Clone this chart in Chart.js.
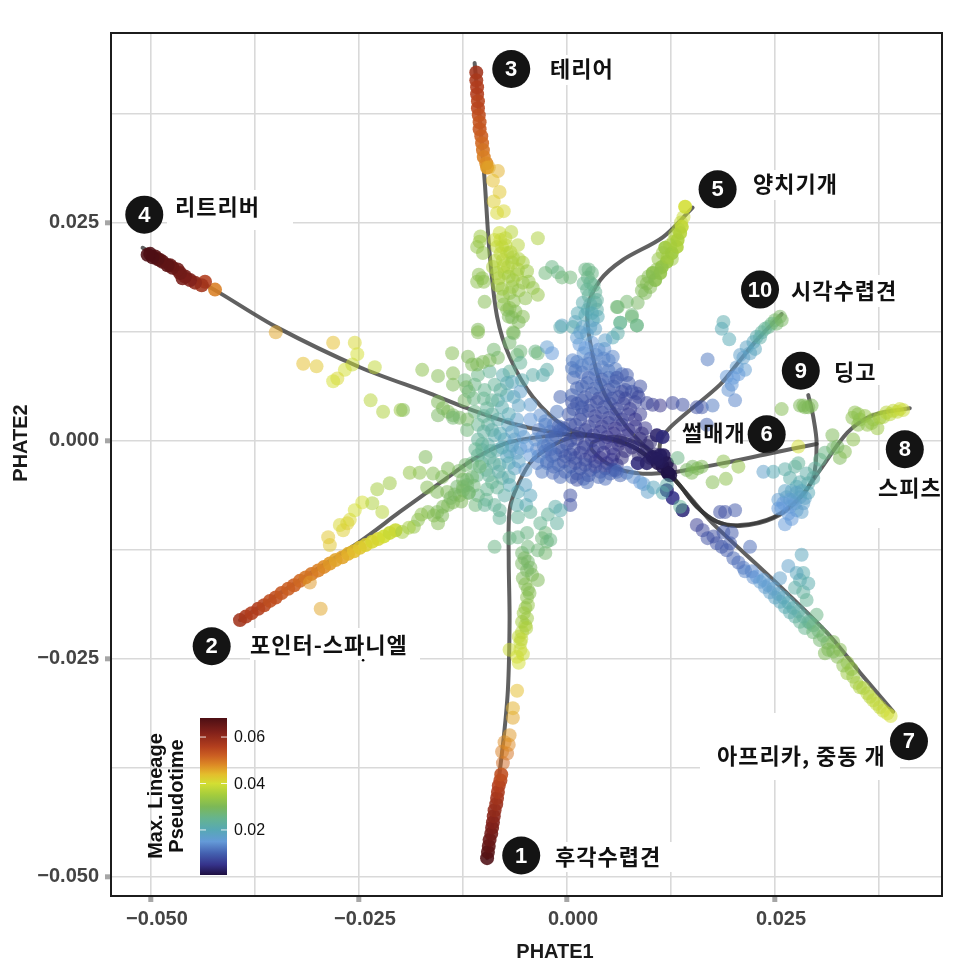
<!DOCTYPE html>
<html><head><meta charset="utf-8">
<style>html,body{margin:0;padding:0;background:#fff}canvas{display:block}</style>
<script src="https://cdn.jsdelivr.net/npm/chart.js@4"></script>
</head><body><div style="width:970px;height:968px"><canvas id="c" width="970" height="968"></canvas></div>
<script>
// ---- tick values ----
const xTickValues=[-.05,-.0375,-.025,-.0125,0,.0125,.025,.0375];
const yTickValues=[-.05,-.0375,-.025,-.0125,0,.0125,.025,.0375];
const majorTicks=[-.05,-.025,0,.025];
// ---- cells: [PHATE1, PHATE2, pseudotime] ----
const hound=[[-.0096,-.0479,.068],[-.0095,-.0472,.067],[-.0094,-.0465,.066],[-.0093,-.0458,.065],[-.0091,-.0451,.064],[-.0090,-.0444,.063],[-.0089,-.0438,.062],[-.0088,-.0431,.061],[-.0087,-.0424,.060],[-.0085,-.0417,.059],[-.0084,-.0410,.058],[-.0083,-.0403,.057],[-.0082,-.0396,.056],[-.0080,-.0390,.055],[-.0079,-.0383,.054],[-.0077,-.0370,.051],[-.0072,-.0359,.050],[-.0078,-.0357,.049],[-.0070,-.0349,.048],[-.0075,-.0346,.048],[-.0069,-.0338,.047],[-.0065,-.0318,.046],[-.0065,-.0307,.045],[-.0060,-.0287,.044],[-.0058,-.0255,.040],[-.0060,-.0248,.040],[-.0069,-.0240,.039],[-.0056,-.0240,.039],[-.0056,-.0232,.038],[-.0058,-.0225,.038],[-.0054,-.0220,.037],[-.0050,-.0212,.036],[-.0054,-.0208,.035],[-.0048,-.0204,.034],[-.0050,-.0192,.033],[-.0047,-.0189,.033],[-.0048,-.0180,.032],[-.0047,-.0171,.031],[-.0035,-.0160,.030],[-.0053,-.0158,.030],[-.0042,-.0154,.030],[-.0048,-.0149,.029],[-.0054,-.0141,.029],[-.0047,-.0139,.028],[-.0054,-.0129,.028],[-.0047,-.0122,.027],[-.0087,-.0122,.026],[-.0069,-.0112,.026],[-.0059,-.0111,.026],[-.0048,-.0106,.026],[-.0026,-.0129,.028],[-.0035,-.0126,.027],[-.0024,-.0116,.027],[-.0030,-.0112,.027],[-.0026,-.0106,.027],[-.0020,-.0114,.026],[-.0032,-.0095,.025],[-.0023,-.0085,.024],[-.0012,-.0095,.023],[-.0044,-.0082,.024],[-.0059,-.0088,.024],[-.0081,-.0089,.024],[-.0099,-.0074,.024],[-.0014,-.0076,.022],[-.0008,-.0080,.021],[-.0051,-.0135,.029],[-.0044,-.0146,.029],[-.0050,-.0165,.031],[-.0045,-.0175,.031],[-.0052,-.0198,.034],[-.0049,-.0215,.036],[-.0055,-.0228,.038],[-.0053,-.0245,.039]];
const pointer=[[-.0393,-.0206,.058],[-.0386,-.0202,.057],[-.0379,-.0198,.056],[-.0371,-.0193,.056],[-.0364,-.0189,.055],[-.0357,-.0184,.054],[-.0350,-.0180,.054],[-.0343,-.0175,.053],[-.0335,-.0170,.052],[-.0328,-.0166,.052],[-.0321,-.0161,.051],[-.0314,-.0157,.050],[-.0307,-.0153,.050],[-.0299,-.0149,.049],[-.0292,-.0145,.048],[-.0285,-.0141,.047],[-.0278,-.0137,.046],[-.0270,-.0134,.046],[-.0263,-.0130,.045],[-.0256,-.0127,.044],[-.0249,-.0123,.043],[-.0242,-.0120,.042],[-.0234,-.0116,.041],[-.0227,-.0113,.041],[-.0220,-.0110,.040],[-.0213,-.0106,.039],[-.0206,-.0103,.039],[-.0296,-.0193,.046],[-.0309,-.0163,.047],[-.0285,-.0120,.043],[-.0287,-.0111,.043],[-.0269,-.0103,.042],[-.0264,-.0095,.042],[-.0261,-.0091,.041],[-.0273,-.0097,.041],[-.0255,-.0080,.040],[-.0246,-.0071,.040],[-.0222,-.0082,.037],[-.0234,-.0072,.036],[-.0228,-.0056,.035],[-.0213,-.0049,.034],[-.0198,-.0105,.035],[-.0184,-.0099,.033],[-.0179,-.0091,.032],[-.0167,-.0082,.031],[-.0155,-.0095,.031],[-.0156,-.0082,.030],[-.0149,-.0076,.030],[-.0143,-.0074,.030],[-.0137,-.0071,.030],[-.0129,-.0063,.029],[-.0125,-.0057,.029],[-.0120,-.0051,.028],[-.0132,-.0053,.028],[-.0168,-.0054,.031],[-.0156,-.0059,.030],[-.0144,-.0059,.030],[-.0189,-.0037,.033],[-.0177,-.0037,.032],[-.0161,-.0038,.031],[-.0170,-.0019,.030],[-.0143,-.0032,.030],[-.0125,-.0053,.029],[-.0114,-.0042,.028],[-.0105,-.0030,.027],[-.0190,-.0100,.035],[-.0175,-.0085,.032],[-.0160,-.0086,.031],[-.0150,-.0086,.030],[-.0140,-.0066,.029],[-.0135,-.0062,.029],[-.0127,-.0070,.030],[-.0118,-.0060,.028],[-.0120,-.0045,.028],[-.0150,-.0042,.030]];
const midLeft=[[-.0107,.0001,.024],[-.0102,-.0011,.023],[-.0107,-.0017,.024],[-.0095,-.0005,.022],[-.0093,-.0020,.023],[-.0097,-.0034,.024],[-.0087,.0006,.021],[-.0084,-.0011,.021],[-.0081,-.0028,.022],[-.0090,-.0048,.025],[-.0078,-.0043,.023],[-.0075,.0001,.019],[-.0069,-.0013,.018],[-.0063,.0001,.017],[-.0056,-.0009,.016],[-.0056,.0012,.016],[-.0071,.0018,.019],[-.0083,.0024,.021],[-.0095,.0018,.023],[-.0107,.0018,.025],[-.0111,.0033,.026],[-.0096,.0037,.024],[-.0083,.0046,.022],[-.0072,.0052,.020],[-.0087,.0064,.024],[-.0099,.0058,.025],[-.0111,.0064,.026],[-.0123,.0069,.027],[-.0107,.0075,.026],[-.0093,.0079,.024],[-.0077,.0075,.021],[-.0066,.0067,.019],[-.0056,.0056,.017],[-.0044,.0041,.016],[-.0032,.0029,.014],[-.0044,.0024,.015],[-.0026,.0018,.013],[-.0038,.0001,.014],[-.0023,-.0005,.012],[-.0044,-.0017,.015],[-.0063,-.0032,.018],[-.0050,-.0034,.016],[-.0069,-.0051,.020],[-.0059,-.0059,.020],[-.0075,-.0063,.022],[-.0087,-.0074,.024],[-.0097,-.0068,.025],[-.0107,-.0063,.026],[-.0081,-.0080,.024],[-.0050,-.0051,.018],[-.0044,-.0063,.019],[-.0049,-.0074,.020],[-.0060,-.0074,.021],[-.0155,.0044,.030],[-.0149,.0037,.030],[-.0143,.0033,.030],[-.0137,.0029,.029],[-.0129,.0026,.029],[-.0120,.0024,.029],[-.0138,.0100,.031],[-.0119,.0096,.030],[-.0114,.0087,.030],[-.0108,.0087,.030],[-.0101,.0090,.030],[-.0093,.0092,.030],[-.0083,.0095,.029],[-.0088,.0104,.028],[-.0174,.0081,.032],[-.0155,.0074,.031],[-.0137,.0077,.031],[-.0137,.0064,.030],[-.0121,.0061,.029],[-.0107,.0124,.031],[-.0123,.0046,.029],[-.0155,.0029,.029],[-.0137,.0026,.028],[-.0197,.0035,.031],[-.0048,-.0006,.015],[-.0052,.0004,.016],[-.0060,-.0014,.017],[-.0066,-.0006,.018],[-.0072,-.0018,.019],[-.0078,-.0008,.020],[-.0080,.0008,.020],[-.0090,.0012,.022],[-.0100,.0010,.023],[-.0102,-.0004,.024],[-.0092,-.0012,.023],[-.0088,-.0026,.023],[-.0102,-.0026,.024],[-.0094,-.0040,.024],[-.0082,-.0036,.022],[-.0070,-.0026,.020],[-.0058,-.0024,.018],[-.0070,-.0042,.021],[-.0084,-.0054,.024],[-.0096,-.0056,.025],[-.0108,-.0040,.025],[-.0114,-.0026,.026],[-.0110,-.0010,.025],[-.0066,.0010,.018],[-.0060,.0024,.017],[-.0070,.0030,.020],[-.0078,.0038,.021],[-.0090,.0030,.023],[-.0100,.0028,.024],[-.0090,.0046,.024],[-.0100,.0048,.025],[-.0112,.0048,.026],[-.0058,.0040,.018],[-.0064,.0050,.019],[-.0080,.0058,.023],[-.0072,.0066,.021],[-.0110,-.0074,.027],[-.0118,-.0060,.028],[-.0112,-.0052,.027],[-.0125,-.0045,.029],[-.0130,-.0035,.029],[-.0122,-.0028,.028],[-.0120,.0012,.027],[-.0118,.0056,.027]];
const retriever=[[-.0423,.0173,.049],[-.0435,.0182,.056],[-.0439,.0178,.058],[-.0447,.0181,.060],[-.0453,.0184,.062],[-.0459,.0188,.063],[-.0462,.0186,.063],[-.0465,.0192,.064],[-.0468,.0196,.064],[-.0474,.0198,.065],[-.0477,.0201,.065],[-.0480,.0201,.066],[-.0486,.0205,.066],[-.0489,.0207,.066],[-.0492,.0208,.067],[-.0495,.0211,.067],[-.0498,.0210,.068],[-.0501,.0214,.068],[-.0504,.0213,.068],[-.0350,.0124,.046],[-.0317,.0088,.044],[-.0301,.0085,.043],[-.0281,.0112,.044],[-.0255,.0112,.041],[-.0252,.0099,.040],[-.0231,.0084,.038],[-.0267,.0081,.040],[-.0258,.0087,.039],[-.0276,.0071,.041],[-.0281,.0068,.040],[-.0236,.0046,.037],[-.0221,.0033,.036],[-.0200,.0035,.034]];
const terrier=[[-.0109,.0422,.058],[-.0109,.0413,.057],[-.0108,.0405,.056],[-.0108,.0397,.056],[-.0107,.0389,.055],[-.0107,.0381,.055],[-.0106,.0373,.054],[-.0105,.0365,.053],[-.0105,.0357,.053],[-.0103,.0349,.052],[-.0102,.0341,.051],[-.0101,.0333,.050],[-.0100,.0325,.049],[-.0097,.0318,.048],[-.0096,.0313,.047],[-.0094,.0313,.046],[-.0083,.0309,.045],[-.0089,.0298,.044],[-.0081,.0285,.043],[-.0088,.0274,.042],[-.0076,.0263,.041],[-.0084,.0261,.041],[-.0067,.0239,.037],[-.0035,.0232,.036],[-.0081,.0238,.039],[-.0078,.0222,.038],[-.0059,.0224,.037],[-.0105,.0228,.034],[-.0101,.0215,.033],[-.0077,.0207,.037],[-.0089,.0199,.036],[-.0053,.0204,.035],[-.0075,.0192,.036],[-.0102,.0186,.032],[-.0065,.0184,.034],[-.0083,.0178,.035],[-.0053,.0181,.034],[-.0069,.0169,.033],[-.0041,.0175,.033],[-.0035,.0167,.033],[-.0050,.0163,.032],[-.0099,.0159,.031],[-.0072,.0150,.031],[-.0053,.0142,.031],[-.0066,.0141,.030],[-.0107,.0127,.030],[-.0065,.0124,.030],[-.0087,.0230,.039],[-.0071,.0199,.037],[-.0059,.0196,.036],[-.0077,.0165,.033],[-.0084,.0192,.036],[-.0072,.0215,.037],[-.0065,.0210,.036],[-.0069,.0152,.031],[-.0064,.0123,.029],[-.0069,.0112,.028],[-.0056,.0102,.027],[-.0060,.0098,.027],[-.0038,.0102,.026],[-.0035,.0100,.027],[-.0056,.0089,.024],[-.0041,.0075,.022],[-.0024,.0081,.022],[-.0029,.0075,.021],[-.0069,.0079,.024],[-.0054,.0069,.021],[-.0024,.0107,.016],[-.0018,.0100,.015],[-.0080,.0230,.039],[-.0074,.0232,.038],[-.0084,.0222,.038],[-.0074,.0224,.038],[-.0080,.0214,.038],[-.0068,.0216,.037],[-.0086,.0206,.037],[-.0076,.0200,.037],[-.0066,.0204,.036],[-.0058,.0208,.036],[-.0082,.0186,.036],[-.0070,.0188,.035],[-.0060,.0190,.035],[-.0048,.0194,.034],[-.0078,.0174,.034],[-.0066,.0176,.034],[-.0058,.0172,.033],[-.0046,.0182,.033],[-.0076,.0156,.032],[-.0064,.0160,.032],[-.0062,.0148,.031],[-.0070,.0142,.030],[-.0058,.0136,.030],[-.0104,.0234,.034],[-.0108,.0222,.033],[-.0106,.0190,.032],[-.0100,.0182,.032],[-.0108,.0182,.032]];
const upperMid=[[-.0018,.0199,.026],[-.0026,.0192,.027],[-.0011,.0193,.026],[-.0006,.0187,.027],[.0004,.0187,.027],[.0026,.0196,.026],[.0025,.0187,.026],[.0028,.0181,.025],[.0034,.0170,.024],[.0036,.0161,.023],[.0036,.0150,.022],[.0024,.0173,.024],[.0019,.0158,.021],[.0013,.0146,.020],[.0010,.0136,.019],[.0025,.0150,.021],[.0031,.0138,.019],[.0037,.0142,.020],[-.0006,.0132,.018],[.0028,.0130,.018],[.0019,.0130,.018],[.0060,.0153,.027],[.0078,.0142,.027],[.0084,.0132,.026],[.0064,.0135,.025],[.0061,.0123,.022],[.0055,.0118,.020],[.0046,.0115,.017],[-.0008,.0130,.021],[.0007,.0130,.021],[.0012,.0118,.016],[.0007,.0092,.013],[.0006,.0083,.012],[.0055,.0096,.013],[.0072,.0075,.009],[.0060,.0072,.009],[-.0008,.0050,.010],[.0006,.0044,.009],[-.0012,.0033,.012],[.0018,.0038,.009],[.0022,.0196,.026],[.0030,.0192,.026],[.0020,.0180,.025],[.0032,.0178,.025],[.0026,.0166,.024],[.0034,.0158,.023],[.0028,.0156,.022],[.0022,.0144,.020],[.0030,.0146,.020],[.0034,.0128,.018],[.0024,.0122,.017],[.0016,.0124,.017]];
const setter=[[.0142,.0268,.040],[.0138,.0245,.038],[.0136,.0238,.037],[.0133,.0230,.036],[.0132,.0222,.036],[.0126,.0215,.035],[.0118,.0221,.034],[.0120,.0205,.034],[.0114,.0199,.033],[.0112,.0192,.033],[.0103,.0192,.032],[.0106,.0184,.032],[.0140,.0256,.039],[.0137,.0250,.038],[.0134,.0242,.037],[.0130,.0236,.036],[.0128,.0228,.036],[.0124,.0224,.035],[.0126,.0208,.034],[.0110,.0208,.033],[.0108,.0196,.032],[.0091,.0182,.031],[.0100,.0176,.031],[.0094,.0169,.030],[.0085,.0158,.029],[.0072,.0159,.028],[.0061,.0153,.028],[.0078,.0144,.027],[.0084,.0132,.026],[.0064,.0135,.025],[.0121,.0210,.035],[.0115,.0215,.034],[.0098,.0188,.031],[.0096,.0180,.031],[.0090,.0172,.030]];
const core=[[-.0034,.0012,.012],[-.0020,.0010,.011],[-.0010,.0016,.010],[-.0026,-.0012,.012],[-.0036,-.0010,.013],[-.0036,-.0026,.013],[-.0030,-.0036,.012],[.0015,.0110,.015],[.0030,.0112,.015],[.0045,.0105,.014],[.0020,.0100,.014],[.0035,.0098,.013],[.0050,.0092,.013],[.0012,.0090,.013],[.0026,.0088,.012],[.0042,.0084,.012],[.0058,.0082,.012],[.0018,.0078,.011],[.0034,.0076,.011],[.0050,.0072,.011],[.0008,.0072,.011],[.0024,.0066,.010],[.0040,.0064,.010],[.0056,.0062,.009],[.0070,.0058,.008],[.0012,.0060,.010],[.0030,.0054,.009],[.0046,.0052,.009],[.0062,.0050,.008],[.0078,.0056,.008],[.0088,.0062,.008],[.0018,.0046,.009],[.0036,.0044,.008],[.0052,.0042,.008],[.0068,.0042,.007],[.0082,.0044,.007],[.0008,.0036,.009],[.0026,.0034,.008],[.0042,.0032,.007],[.0058,.0030,.007],[.0074,.0030,.006],[.0088,.0030,.006],[.0016,.0024,.008],[.0034,.0022,.007],[.0050,.0020,.006],[.0066,.0018,.006],[.0082,.0016,.005],[.0094,.0014,.005],[.0004,.0018,.008],[.0022,.0012,.007],[.0040,.0010,.006],[.0056,.0008,.005],[.0072,.0006,.005],[.0088,.0002,.004],[.0100,-.0002,.003],[-.0004,.0008,.009],[.0012,.0002,.007],[.0030,.0000,.006],[.0046,-.0003,.005],[.0062,-.0005,.004],[.0078,-.0008,.004],[.0092,-.0012,.003],[.0106,-.0016,.002],[.0114,-.0024,.002],[.0124,-.0032,.001],[-.0018,.0002,.010],[-.0010,-.0008,.010],[.0000,-.0004,.009],[.0008,-.0010,.008],[.0020,-.0008,.007],[.0032,-.0012,.006],[.0044,-.0014,.005],[.0056,-.0016,.005],[-.0014,-.0016,.010],[-.0002,-.0018,.009],[.0010,-.0020,.008],[.0022,-.0022,.007],[.0034,-.0024,.006],[.0048,-.0026,.005],[.0060,-.0028,.006],[-.0024,-.0024,.011],[-.0010,-.0028,.010],[.0004,-.0030,.009],[.0016,-.0032,.008],[.0028,-.0034,.008],[.0040,-.0036,.008],[.0052,-.0038,.009],[.0064,-.0040,.010],[-.0017,-.0037,.011],[-.0008,-.0042,.011],[.0006,-.0042,.010],[.0020,-.0044,.010],[.0012,-.0045,.008],[.0024,-.0048,.011],[.0004,-.0063,.008],[.0004,-.0074,.008],[-.0024,-.0026,.012],[.0055,-.0034,.011],[.0072,-.0037,.012],[.0088,-.0048,.015],[.0097,-.0059,.017],[.0115,-.0060,.021],[.0120,-.0051,.022],[.0136,-.0076,.024],[.0022,.0106,.015],[.0038,.0104,.014],[.0028,.0094,.013],[.0044,.0094,.013],[.0018,.0086,.013],[.0034,.0082,.012],[.0050,.0080,.012],[.0066,.0076,.011],[.0010,.0080,.012],[.0026,.0072,.011],[.0042,.0070,.010],[.0058,.0068,.010],[.0074,.0066,.009],[.0084,.0054,.008],[.0018,.0062,.010],[.0034,.0060,.010],[.0050,.0058,.009],[.0066,.0056,.008],[.0006,.0052,.010],[.0022,.0050,.009],[.0038,.0048,.008],[.0054,.0048,.008],[.0070,.0048,.007],[.0086,.0050,.007],[.0012,.0042,.009],[.0028,.0040,.008],[.0044,.0038,.008],[.0060,.0036,.007],[.0076,.0036,.006],[.0002,.0030,.009],[.0018,.0030,.008],[.0034,.0028,.007],[.0050,.0026,.007],[.0066,.0024,.006],[.0082,.0024,.005],[.0010,.0018,.008],[.0026,.0016,.007],[.0042,.0016,.006],[.0058,.0014,.005],[.0074,.0012,.005],[.0090,.0008,.004],[-.0004,.0014,.009],[.0014,.0008,.007],[.0032,.0006,.006],[.0048,.0004,.005],[.0064,.0000,.004],[.0080,-.0003,.004],[.0096,-.0006,.003],[.0004,.0000,.008],[.0022,-.0004,.007],[.0038,-.0006,.006],[.0054,-.0009,.005],[.0070,-.0012,.004],[.0086,-.0016,.003],[.0100,-.0020,.002],[.0108,-.0022,.002],[-.0006,-.0012,.009],[.0004,-.0016,.008],[.0016,-.0014,.007],[.0028,-.0018,.006],[.0040,-.0020,.005],[.0054,-.0022,.005],[.0066,-.0020,.004],[-.0018,-.0018,.011],[-.0004,-.0024,.009],[.0010,-.0026,.008],[.0022,-.0028,.008],[.0034,-.0030,.007],[.0046,-.0032,.007],[.0058,-.0034,.008],[-.0016,-.0030,.011],[-.0002,-.0036,.010],[.0012,-.0038,.009],[.0026,-.0040,.009],[.0038,-.0042,.010],[.0046,-.0044,.011],[.0060,-.0036,.011],[.0080,-.0042,.014],[.0092,-.0050,.016],[.0104,-.0054,.019],[-.0028,-.0006,.012],[-.0030,.0004,.012],[-.0020,-.0010,.011],[-.0014,.0006,.011],[-.0008,.0012,.010],[-.0016,.0018,.011],[-.0026,.0022,.013],[-.0034,-.0018,.013]];
const sled=[[.0096,.0043,.007],[.0112,.0040,.005],[.0127,.0043,.007],[.0139,.0041,.008],[.0156,.0038,.008],[.0162,.0038,.009],[.0175,.0040,.012],[.0169,.0093,.012],[.0103,.0041,.006],[.0168,.0018,.010],[.0133,-.0020,.026],[.0151,-.0030,.029],[.0144,-.0034,.029],[.0157,-.0032,.030],[.0150,-.0037,.030],[.0188,-.0024,.032],[.0206,-.0030,.033],[.0175,-.0048,.031],[.0191,-.0044,.032],[.0162,-.0030,.030]];
const sighthound=[[.0192,.0073,.015],[.0198,.0064,.015],[.0202,.0046,.013],[.0214,.0081,.016],[.0204,.0084,.016],[.0208,.0098,.017],[.0216,.0107,.018],[.0224,.0113,.019],[.0228,.0119,.021],[.0234,.0124,.023],[.0242,.0130,.025],[.0250,.0138,.028],[.0256,.0142,.029],[.0188,.0136,.021],[.0186,.0128,.020],[.0195,.0116,.020],[.0212,.0095,.017],[.0220,.0100,.018],[.0226,.0105,.019],[.0232,.0118,.022],[.0238,.0128,.024],[.0246,.0134,.026],[.0252,.0134,.028],[.0258,.0138,.029],[.0206,.0076,.015],[.0200,.0072,.015],[.0194,.0058,.014]];
const spitz=[[.0236,-.0036,.017],[.0248,-.0036,.020],[.0262,-.0033,.022],[.0274,-.0030,.023],[.0278,-.0026,.024],[.0268,-.0043,.022],[.0280,-.0048,.021],[.0290,-.0049,.021],[.0276,-.0053,.020],[.0264,-.0065,.017],[.0254,-.0068,.016],[.0272,-.0068,.016],[.0280,-.0065,.017],[.0260,-.0072,.015],[.0268,-.0076,.015],[.0276,-.0080,.016],[.0284,-.0072,.017],[.0262,-.0096,.015],[.0296,-.0043,.022],[.0304,-.0022,.025],[.0310,-.0014,.026],[.0319,.0006,.030],[.0320,-.0009,.028],[.0328,-.0020,.030],[.0334,-.0013,.031],[.0344,.0001,.032],[.0278,-.0007,.040],[.0325,-.0007,.029],[.0346,.0032,.032],[.0343,.0026,.032],[.0352,.0024,.032],[.0361,.0018,.033],[.0373,.0014,.034],[.0368,.0024,.034],[.0380,.0027,.036],[.0388,.0030,.037],[.0397,.0033,.038],[.0404,.0035,.039],[.0280,.0040,.030],[.0284,.0040,.030],[.0290,.0038,.030],[.0258,.0036,.031],[.0270,-.0058,.019],[.0262,-.0058,.018],[.0282,-.0058,.019],[.0290,-.0060,.020],[.0258,-.0078,.015],[.0266,-.0084,.015],[.0274,-.0072,.016],[.0282,-.0082,.017],[.0288,-.0038,.022],[.0298,-.0032,.023],[.0268,-.0068,.016],[.0276,-.0060,.018],[.0286,-.0066,.018],[.0270,-.0090,.015],[.0254,-.0078,.015],[.0350,.0030,.032],[.0358,.0028,.033],[.0350,.0018,.032],[.0366,.0020,.033],[.0376,.0026,.035],[.0384,.0032,.037],[.0392,.0034,.038],[.0400,.0036,.039],[.0286,.0038,.030],[.0294,.0040,.030]];
const african=[[.0184,-.0082,.008],[.0190,-.0082,.008],[.0202,-.0080,.009],[.0156,-.0097,.006],[.0163,-.0103,.007],[.0169,-.0112,.008],[.0180,-.0118,.008],[.0188,-.0105,.009],[.0198,-.0106,.009],[.0192,-.0126,.009],[.0200,-.0135,.010],[.0212,-.0146,.012],[.0220,-.0122,.011],[.0224,-.0157,.014],[.0232,-.0162,.016],[.0238,-.0168,.016],[.0244,-.0174,.017],[.0256,-.0158,.017],[.0250,-.0180,.018],[.0256,-.0185,.019],[.0262,-.0191,.020],[.0268,-.0197,.021],[.0274,-.0202,.022],[.0280,-.0160,.021],[.0266,-.0144,.017],[.0282,-.0131,.019],[.0284,-.0152,.021],[.0274,-.0169,.022],[.0284,-.0174,.023],[.0288,-.0183,.024],[.0280,-.0208,.024],[.0286,-.0215,.025],[.0292,-.0209,.026],[.0300,-.0200,.026],[.0296,-.0220,.027],[.0304,-.0229,.028],[.0313,-.0232,.029],[.0310,-.0244,.030],[.0320,-.0231,.030],[.0325,-.0248,.031],[.0337,-.0255,.033],[.0337,-.0267,.034],[.0344,-.0271,.034],[.0352,-.0283,.036],[.0361,-.0290,.037],[.0368,-.0298,.038],[.0376,-.0306,.038],[.0385,-.0313,.039],[.0214,-.0150,.013],[.0222,-.0150,.013],[.0228,-.0156,.015],[.0236,-.0160,.016],[.0242,-.0166,.016],[.0248,-.0170,.017],[.0254,-.0176,.018],[.0260,-.0180,.019],[.0266,-.0186,.020],[.0272,-.0192,.021],[.0278,-.0196,.022],[.0284,-.0202,.023],[.0290,-.0208,.024],[.0296,-.0212,.026],[.0302,-.0218,.027],[.0308,-.0224,.028],[.0314,-.0240,.030],[.0320,-.0242,.030],[.0328,-.0240,.031],[.0332,-.0258,.032],[.0342,-.0262,.033],[.0348,-.0278,.035],[.0356,-.0284,.036],[.0364,-.0294,.037],[.0372,-.0302,.038],[.0380,-.0310,.039],[.0389,-.0316,.040],[.0176,-.0110,.008],[.0186,-.0122,.009],[.0196,-.0118,.009],[.0206,-.0140,.011],[.0290,-.0164,.021],[.0276,-.0152,.019]];
const root=[[.0139,-.0080,.004],[.0127,-.0066,.005],[.0120,-.0057,.004],[.0108,.0006,.003],[.0115,.0004,.004],[.0085,-.0026,.004],[.0096,-.0026,.003],[.0103,-.0019,.002],[.0112,-.0017,.002],[.0116,-.0017,.002],[.0109,-.0026,.001],[.0120,-.0026,.001],[.0115,-.0030,.001],[.0121,-.0037,.0005],[.0122,-.0038,.0005],[.0124,-.0040,.0005]];
const cellGroups=[hound,pointer,midLeft,retriever,terrier,upperMid,setter,sled,sighthound,spitz,african,core,root];
// ---- lineage curves: PHATE1 and PHATE2 ----
const lineage1X=[.0121,.0079,.0040,0,-.0041,-.0060,-.0069,-.0070,-.0069,-.0071,-.0077,-.0087,-.0096];
const lineage1Y=[-.0036,-.0007,.0004,.0002,-.0022,-.0053,-.0080,-.0137,-.0206,-.0286,-.0349,-.0424,-.0479];
const lineage2X=[.0121,.0079,.0040,0,-.0069,-.0108,-.0153,-.0201,-.0249,-.0321,-.0393];
const lineage2Y=[-.0036,-.0007,.0005,.0007,-.0002,-.0019,-.0049,-.0082,-.0116,-.0160,-.0206];
const lineage3X=[.0121,.0079,.0031,0,-.0041,-.0069,-.0084,-.0093,-.0099,-.0105,-.0111];
const lineage3Y=[-.0036,-.0007,.0005,.0014,.0050,.0096,.0142,.0215,.0299,.0371,.0433];
const lineage4X=[.0121,.0079,.0040,0,-.0060,-.0120,-.0165,-.0249,-.0349,-.0417,-.0510];
const lineage4Y=[-.0036,-.0007,.0005,.0007,.0018,.0037,.0054,.0084,.0130,.0169,.0221];
const lineage5X=[.0121,.0100,.0072,.0043,.0028,.0025,.0040,.0067,.0115,.0151];
const lineage5Y=[-.0036,-.0013,.0015,.0058,.0112,.0153,.0184,.0207,.0233,.0267];
const lineage6X=[.0126,.0188,.0248,.0300];
const lineage6Y=[-.0037,-.0026,-.0014,-.0004];
const lineage7X=[.0121,.0136,.0154,.0175,.0248,.0313,.0352,.0392];
const lineage7Y=[-.0036,-.0052,-.0072,-.0095,-.0160,-.0221,-.0266,-.0311];
const lineage8X=[.0121,.0136,.0156,.0180,.0208,.0248,.0280,.0304,.0337,.0368,.0412];
const lineage8Y=[-.0036,-.0052,-.0076,-.0093,-.0097,-.0088,-.0065,-.0034,.0009,.0029,.0037];
const lineage9X=[.0121,.0136,.0156,.0180,.0208,.0248,.0278,.0296,.0300,.0296,.0290];
const lineage9Y=[-.0036,-.0052,-.0076,-.0093,-.0098,-.0089,-.0068,-.0042,-.0003,.0027,.0052];
const lineage10X=[.0112,.0112,.0124,.0184,.0208,.0228,.0258];
const lineage10Y=[-.0028,-.0003,.0015,.0064,.0092,.0115,.0145];
const hookX=[.0121,.0088,.0055,.0030,.0031,.0060,.0100,.0121];
const hookY=[-.0037,-.0038,-.0030,-.0011,-.0002,.0004,-.0011,-.0036];
const lineageX=[lineage1X,lineage2X,lineage3X,lineage4X,lineage5X,lineage6X,lineage7X,lineage8X,lineage9X,lineage10X,hookX];
const lineageY=[lineage1Y,lineage2Y,lineage3Y,lineage4Y,lineage5Y,lineage6Y,lineage7Y,lineage8Y,lineage9Y,lineage10Y,hookY];
// ---- numbered badges ----
const badgeNumbers=['1','2','3','4','5','6','7','8','9','10'];
const badgeX=[-.0055,-.0427,-.0067,-.0508,.0181,.0240,.0411,.0406,.0281,.0232];
const badgeY=[-.0476,-.0236,.0426,.0259,.0288,.0007,-.0345,-.0010,.0080,.0173];
const breedNames=['후각수렵견','포인터-스파니엘','테리어','리트리버','양치기개','썰매개','아프리카, 중동 개','스피츠','딩고','시각수렵견'];
const specX=[-.0245],specY=[-.0252];
// ---- colour bar ----
const legendTicks=[.02,.04,.06];
const legendMin=.0006,legendMax=.0682;
const rampT=[0,.005,.01,.015,.02,.025,.03,.035,.04,.044,.048,.052,.056,.062,.068];
const rampRGB=[[30,15,64],[53,50,138],[68,97,176],[100,154,216],[87,168,181],[102,180,143],[124,184,87],[163,204,61],[211,222,51],[228,189,44],[221,138,37],[203,94,34],[178,62,30],[130,33,26],[78,15,20]];

// ---- layout and style (pixels of the page) ----
const panel={l:111,r:942,t:33,b:896};
const nameAt=[[555,857],[250,645],[550,69],[175,207],[753,184],[682,433],[717,756],[878,488],[834,372],[791,291]];
const patches=[[167,190,126,40],[700,713,200,67],[545,842,127,30],[875,470,67,58],[830,350,55,35],[790,275,110,32],[250,628,170,32],[550,55,80,30],[750,170,95,30],[676,420,60,26]];
const bar={l:200,r:227,t:718,b:875};
const strongLead=[15,27,0,19,15,0,12,0,0,0,0,0,16];
const KR='"Noto Sans CJK KR","Noto Sans",sans-serif';
const LAT='"Liberation Sans",Arial,sans-serif';

function ramp(t,a){
  let i=0;while(i<rampT.length-2&&t>rampT[i+1])i++;
  const f=Math.min(1,Math.max(0,(t-rampT[i])/(rampT[i+1]-rampT[i])));
  const c=rampRGB[i].map((v,k)=>Math.round(v+(rampRGB[i+1][k]-v)*f));
  return a===undefined?`rgb(${c})`:`rgba(${c},${a})`;
}
const isMajor=v=>majorTicks.some(m=>Math.abs(m-v)<1e-6);
const fmt=v=>v===0?'0.000':(v<0?'\u2212':'')+Math.abs(v).toFixed(3);

const datasets=[];
cellGroups.forEach((g,gi)=>datasets.push({
  type:'scatter',data:g.map(p=>({x:p[0],y:p[1],t:p[2]})),pointRadius:7,borderWidth:0,
  pointBorderWidth:0,pointBackgroundColor:c=>ramp(c.raw.t,c.dataIndex<strongLead[gi]?.88:.52),showLine:false}));
lineageX.forEach((xs,i)=>datasets.push({
  type:'scatter',data:xs.map((x,k)=>({x,y:lineageY[i][k]})),showLine:true,pointRadius:0,
  borderColor:'rgba(52,52,52,.78)',borderWidth:4,tension:.3,borderCapStyle:'round',fill:false}));
datasets.push({type:'scatter',data:badgeX.map((x,i)=>({x,y:badgeY[i]})),pointRadius:19,pointBackgroundColor:'#141414',pointBorderWidth:0,showLine:false,clip:false});
datasets.push({type:'scatter',data:specX.map((x,i)=>({x,y:specY[i]})),pointRadius:1.3,pointBackgroundColor:'#000',pointBorderWidth:0,showLine:false});

const decor={
  id:'decor',
  beforeDatasetsDraw(ch){
    const c=ch.ctx;c.save();c.fillStyle='#fff';
    patches.forEach(p=>c.fillRect(p[0],p[1],p[2],p[3]));
    c.restore();
  },
  afterDraw(ch){
    const c=ch.ctx,sx=ch.scales.x,sy=ch.scales.y;c.save();
    c.strokeStyle='#1c1c1c';c.lineWidth=2;c.strokeRect(panel.l,panel.t,panel.r-panel.l,panel.b-panel.t);
    c.fillStyle='#fff';c.textAlign='center';c.textBaseline='middle';c.font='bold 22px '+LAT;
    badgeNumbers.forEach((n,i)=>c.fillText(n,sx.getPixelForValue(badgeX[i]),sy.getPixelForValue(badgeY[i])+1));
    c.fillStyle='#111';c.textAlign='left';c.font='bold 22px '+KR;c.letterSpacing='1px';
    breedNames.forEach((n,i)=>c.fillText(n,nameAt[i][0],nameAt[i][1]));
    c.letterSpacing='0px';
    c.fillStyle='#1a1a1a';c.textAlign='center';c.font='bold 20px '+LAT;
    c.fillText('PHATE1',555,952);
    c.save();c.translate(21,443);c.rotate(-Math.PI/2);c.fillText('PHATE2',0,0);c.restore();
    const g=c.createLinearGradient(0,bar.b,0,bar.t);
    rampT.forEach((t,i)=>{const f=(t-legendMin)/(legendMax-legendMin);
      g.addColorStop(Math.min(1,Math.max(0,f)),`rgb(${rampRGB[i]})`);});
    c.fillStyle=g;c.fillRect(bar.l,bar.t,bar.r-bar.l,bar.b-bar.t);
    const ly=t=>bar.b-(t-legendMin)/(legendMax-legendMin)*(bar.b-bar.t);
    c.fillStyle='rgba(255,255,255,.85)';
    legendTicks.forEach(t=>{c.fillRect(bar.l,ly(t)-.5,6,1);c.fillRect(bar.r-6,ly(t)-.5,6,1);});
    c.fillStyle='#111';c.textAlign='left';c.font='16px '+LAT;
    legendTicks.forEach(t=>c.fillText(t.toFixed(2),234,ly(t)+1));
    c.textAlign='center';c.font='bold 20px '+LAT;
    c.save();c.translate(156,796);c.rotate(-Math.PI/2);c.fillText('Max. Lineage',0,0);c.restore();
    c.save();c.translate(177,796);c.rotate(-Math.PI/2);c.fillText('Pseudotime',0,0);c.restore();
    c.restore();
  }
};

const axis=(ticks,extra,labelOffset,pad)=>Object.assign({
  type:'linear',
  afterBuildTicks(s){s.ticks=ticks.map(v=>({value:v}));},
  grid:{color:'#d9d9d9',lineWidth:1.6,drawTicks:true,tickLength:6,
    tickColor:c=>isMajor(c.tick.value)?'#a6a6a6':'rgba(0,0,0,0)',
    tickWidth:c=>isMajor(c.tick.value)?5:0},
  border:{display:false},
  ticks:{autoSkip:false,maxRotation:0,padding:pad,labelOffset,color:'#444',font:{family:LAT,size:20,weight:'bold'},
    callback:v=>isMajor(v)?fmt(v):''}
},extra);

new Chart(document.getElementById('c'),{
  type:'scatter',
  data:{datasets},
  plugins:[decor],
  options:{
    responsive:false,animation:false,devicePixelRatio:1,
    layout:{padding:{top:panel.t,right:970-panel.r,left:0,bottom:0}},
    plugins:{legend:{display:false},tooltip:{enabled:false}},
    events:[],
    scales:{
      x:axis(xTickValues,{min:-.0548,max:.04507,afterFit(s){s.height=968-panel.b;}},6,5),
      y:axis(yTickValues,{min:-.05224,max:.04673,afterFit(s){s.width=panel.l;}},0,6)
    }
  }
});
</script></body></html>
